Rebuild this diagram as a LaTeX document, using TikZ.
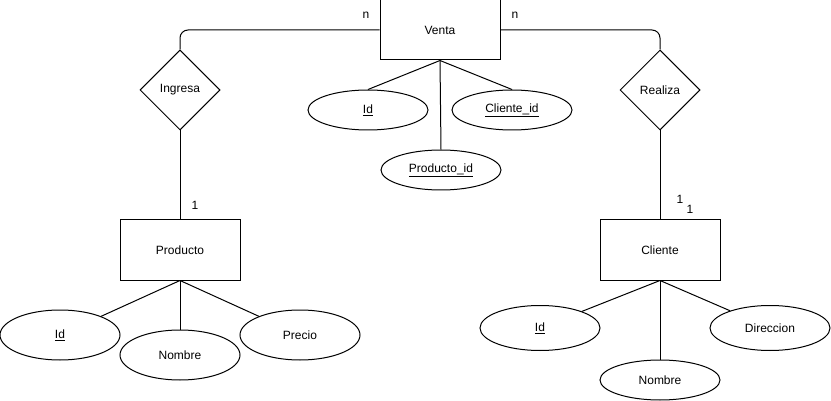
\documentclass[tikz,border=0pt]{standalone}
\usepackage{fontspec}
\setmainfont{Liberation Sans}
\usetikzlibrary{shapes.geometric}
\begin{document}
\begin{tikzpicture}[x=1pt,y=-1pt,line width=1pt,
  txt/.style={font=\fontsize{12}{14}\selectfont},
  entity/.style={txt,draw,rectangle,minimum width=120pt,minimum height=60pt,inner sep=0pt},
  rel/.style={txt,draw,diamond,minimum width=80pt,minimum height=80pt,inner sep=0pt},
  attr/.style={txt,draw,ellipse,minimum width=120pt,minimum height=#1,inner sep=0pt},
  attr/.default=40pt,
  card/.style={txt,inner sep=0pt},
  link/.style={draw,rounded corners=8pt}]
\useasboundingbox (0,0) rectangle (831,401);

% entities and relationships
\node[entity] (venta) at (440,30) {Venta};
\node[rel] (ingresa) at (180,90) {Ingresa};
\node[rel] (realiza) at (660,90) {Realiza};
\node[entity] (producto) at (180,250) {Producto};
\node[entity] (cliente) at (660,250) {Cliente};

% attributes of Venta
\node[attr] (vid) at (368,110) {\underline{Id}};
\node[attr] (vcli) at (512,110) {\underline{Cliente\_id}};
\node[attr] (vprod) at (441,170) {\underline{Producto\_id}};

% attributes of Producto
\node[attr=50pt] (pid) at (60,335) {\underline{Id}};
\node[attr=50pt] (pnom) at (180,355) {Nombre};
\node[attr=50pt] (pprec) at (300,335) {Precio};

% attributes of Cliente
\node[attr=45pt] (cid) at (540,328) {\underline{Id}};
\node[attr=45pt] (cdir) at (770,328) {Direccion};
\node[attr] (cnom) at (660,380) {Nombre};

% relationship links
\path[link] (venta.west) -| (ingresa.north);
\path[link] (venta.east) -| (realiza.north);
\draw (ingresa.south) -- (producto.north);
\draw (realiza.south) -- (cliente.north);

% attribute links
\draw (venta.south) -- (vid.north);
\draw (venta.south) -- (vcli.north);
\draw (venta.south) -- (vprod.north);
\draw (producto.south) -- (pid);
\draw (producto.south) -- (pnom.north);
\draw (producto.south) -- (pprec);
\draw (cliente.south) -- (cid);
\draw (cliente.south) -- (cnom.north);
\draw (cliente.south) -- (cdir);

% cardinalities
\node[card] (cn1) at (366,15) {n};
\node[card] (cn2) at (515,15) {n};
\node[card] (c1p) at (195,205) {1};
\node[card] (c1a) at (680,199) {1};
\node[card] (c1b) at (690,209) {1};
\end{tikzpicture}
\end{document}
